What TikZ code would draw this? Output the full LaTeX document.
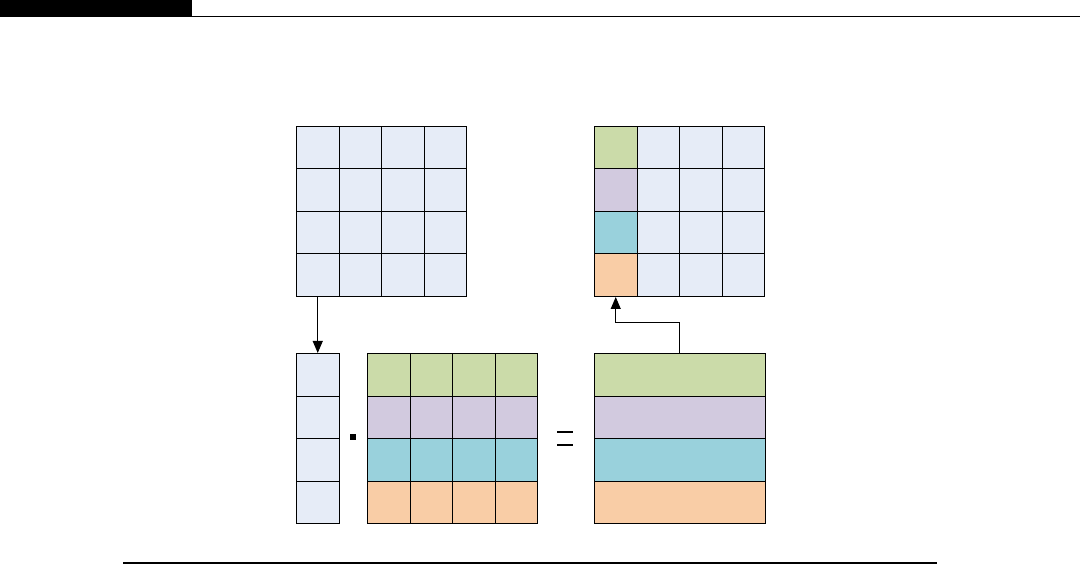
\documentclass[tikz,border=0pt]{standalone}
\usetikzlibrary{arrows.meta}
\definecolor{cblue}{HTML}{E6ECF7}
\definecolor{cgreen}{HTML}{CBDBA9}
\definecolor{cpurple}{HTML}{D2CADF}
\definecolor{cteal}{HTML}{99D1DC}
\definecolor{corange}{HTML}{F9CDA6}
\begin{document}
\begin{tikzpicture}[x=1pt,y=-1pt,
  cell/.style={draw=black,line width=1pt,inner sep=0pt,anchor=north west,minimum width=42.5pt,minimum height=42.5pt},
  wide/.style={draw=black,line width=1pt,inner sep=0pt,anchor=north west,minimum width=170.5pt,minimum height=42.5pt},
  conn/.style={line width=1pt,-{Triangle[width=10pt,length=12pt]}}]
\useasboundingbox (0,0) rectangle (1080,564);
\fill[black] (0,0) rectangle (192,17);
\draw[line width=1pt] (192,16.5) -- (1080,16.5);
\draw[line width=2pt] (123,563) -- (937,563);
% top-left grid
\foreach \r in {1,...,4}{\foreach \c in {1,...,4}{
  \node[cell,fill=cblue] (tl-\r-\c) at ({296+(\c-1)*42.5},{126+(\r-1)*42.5}) {};}}
% top-right grid
\foreach \r/\col in {1/cgreen,2/cpurple,3/cteal,4/corange}{
  \node[cell,fill=\col] (tr-\r-1) at (594,{126+(\r-1)*42.5}) {};
  \foreach \c in {2,3,4}{
    \node[cell,fill=cblue] (tr-\r-\c) at ({594+(\c-1)*42.5},{126+(\r-1)*42.5}) {};}}
% vector
\foreach \r in {1,...,4}{
  \node[cell,fill=cblue] (v-\r) at (296,{353+(\r-1)*42.5}) {};}
% middle matrix
\foreach \r/\col in {1/cgreen,2/cpurple,3/cteal,4/corange}{
  \foreach \c in {1,...,4}{
    \node[cell,fill=\col] (m-\r-\c) at ({367+(\c-1)*42.5},{353+(\r-1)*42.5}) {};}}
% result matrix
\foreach \r/\col in {1/cgreen,2/cpurple,3/cteal,4/corange}{
  \node[wide,fill=\col] (r-\r) at (594,{353+(\r-1)*42.5}) {};}
% dot and equals
\node[fill=black,inner sep=0pt,minimum size=6pt] (dot) at (353,437) {};
\draw[line width=2pt] (557,432) -- (573,432);
\draw[line width=2pt] (557,445) -- (573,445);
% connectors
\draw[conn] (tl-4-1.south) -- (v-1.north);
\draw[conn] (r-1.north) -- ++(0,-30) -| (tr-4-1.south);
\end{tikzpicture}
\end{document}
